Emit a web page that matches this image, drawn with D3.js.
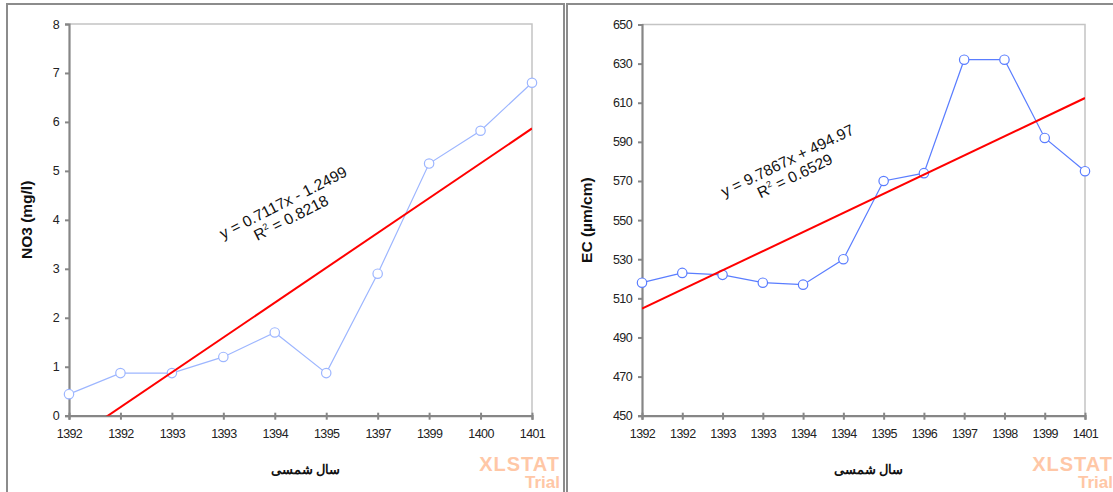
<!DOCTYPE html>
<html>
<head>
<meta charset="utf-8">
<script src="https://cdn.jsdelivr.net/npm/d3@7.9.0/dist/d3.min.js"></script>
<style>
  html, body { margin: 0; padding: 0; background: #fff; }
  svg { display: block; font-family: "Liberation Sans", Arial, sans-serif; }
  .tick text { font-size: 12.5px; fill: #222; letter-spacing: -0.6px; }
</style>
</head>
<body>
<svg id="chart" width="1113" height="492"></svg>
<script>
// NO3 chart data
const no3Labels = ['1392', '1392', '1393', '1393', '1394', '1395', '1397', '1399', '1400', '1401'];
const no3Values = [0.44, 0.87, 0.87, 1.2, 1.7, 0.87, 2.9, 5.15, 5.82, 6.8];
const no3Fit = [0.7117, -1.2499]; // slope, intercept
const no3R2 = '0.8218';
const no3Ticks = [0, 1, 2, 3, 4, 5, 6, 7, 8];

// EC chart data
const ecLabels = ['1392', '1392', '1393', '1393', '1394', '1394', '1395', '1396', '1397', '1398', '1399', '1401'];
const ecValues = [518, 523, 522, 518, 517, 530, 570, 574, 632, 632, 592, 575];
const ecFit = [9.7867, 494.97];
const ecR2 = '0.6529';
const ecTicks = [450, 470, 490, 510, 530, 550, 570, 590, 610, 630, 650];

const svg = d3.select('#chart');

function drawPanel(cfg) {
  const { labels, values, fit, r2, ticks, frame, plot, color, yTitle, eq } = cfg;

  // outer panel frame
  svg.append('rect')
    .attr('x', frame.x).attr('y', frame.y)
    .attr('width', frame.w).attr('height', 520)
    .attr('fill', 'none').attr('stroke', '#8c8c8c').attr('stroke-width', 2);

  const x = d3.scalePoint().domain(d3.range(labels.length)).range([plot.left, plot.right]);
  const y = d3.scaleLinear().domain(d3.extent(ticks)).range([plot.bottom, plot.top]);

  const clipId = 'clip-' + yTitle.slice(0, 2);
  svg.append('clipPath').attr('id', clipId)
    .append('rect')
    .attr('x', plot.left).attr('y', plot.top)
    .attr('width', plot.right - plot.left).attr('height', plot.bottom - plot.top);

  // light top / right border of plot area
  svg.append('path')
    .attr('d', `M${plot.left},${plot.top}H${plot.right}V${plot.bottom}`)
    .attr('fill', 'none').attr('stroke', '#c4c4c4').attr('stroke-width', 1.5);

  // y axis
  const yAxis = svg.append('g')
    .attr('transform', `translate(${plot.left},0)`)
    .call(d3.axisLeft(y).tickValues(ticks).tickSize(4).tickPadding(6));
  yAxis.select('.domain').attr('stroke', '#868686').attr('stroke-width', 2.2);
  yAxis.selectAll('.tick line').attr('stroke', '#868686').attr('stroke-width', 2);

  // x axis
  const xAxis = svg.append('g')
    .attr('transform', `translate(0,${plot.bottom})`)
    .call(d3.axisBottom(x).tickFormat(i => labels[i]).tickSize(4).tickPadding(9));
  xAxis.select('.domain').attr('stroke', '#868686').attr('stroke-width', 2.2);
  xAxis.selectAll('.tick line').attr('y1', -3).attr('y2', 4)
    .attr('stroke', '#868686').attr('stroke-width', 2);

  // series line + markers
  const line = d3.line().x((d, i) => x(i)).y(d => y(d));
  svg.append('path')
    .datum(values)
    .attr('d', line)
    .attr('fill', 'none').attr('stroke', color).attr('stroke-width', 1.2);

  svg.append('g').selectAll('circle')
    .data(values)
    .join('circle')
    .attr('cx', (d, i) => x(i))
    .attr('cy', d => y(d))
    .attr('r', 4.7)
    .attr('fill', '#fff').attr('stroke', color).attr('stroke-width', 1.2);

  // linear trend line
  const n = labels.length;
  svg.append('line')
    .attr('clip-path', `url(#${clipId})`)
    .attr('x1', x(0)).attr('y1', y(fit[0] * 1 + fit[1]))
    .attr('x2', x(n - 1)).attr('y2', y(fit[0] * n + fit[1]))
    .attr('stroke', '#ff0000').attr('stroke-width', 2);

  // equation label
  const sign = fit[1] < 0 ? ' - ' : ' + ';
  const eqG = svg.append('g')
    .attr('transform', `translate(${eq.x},${eq.y}) rotate(${eq.angle})`)
    .style('font-size', '15.5px').attr('fill', '#111').attr('text-anchor', 'middle');
  eqG.append('text').attr('y', -3)
    .text(`y = ${fit[0]}x${sign}${Math.abs(fit[1])}`);
  const r2Text = eqG.append('text').attr('y', 14);
  r2Text.append('tspan').text('R');
  r2Text.append('tspan').attr('dy', -6).style('font-size', '9px').text('2');
  r2Text.append('tspan').attr('dy', 6).text(` = ${r2}`);

  // axis titles
  svg.append('text')
    .attr('transform', `translate(${frame.x + 25},${(plot.top + plot.bottom) / 2}) rotate(-90)`)
    .attr('text-anchor', 'middle')
    .style('font-size', '15.5px').style('font-weight', 'bold').attr('fill', '#111')
    .text(yTitle);

  svg.append('text')
    .attr('x', (plot.left + plot.right) / 2 + 5).attr('y', 474)
    .attr('text-anchor', 'middle')
    .style('font-size', '13px').style('font-weight', 'bold').attr('fill', '#111')
    .text('سال شمسی');

  // watermark
  const wmX = frame.x + frame.w - 4;
  svg.append('text')
    .attr('x', wmX).attr('y', 471).attr('text-anchor', 'end')
    .style('font-size', '20px').style('font-weight', 'bold').style('letter-spacing', '1px')
    .attr('fill', '#ffc7a6')
    .text('XLSTAT');
  svg.append('text')
    .attr('x', wmX).attr('y', 488).attr('text-anchor', 'end')
    .style('font-size', '17px').style('font-weight', 'bold').attr('fill', '#ffc7a6')
    .text('Trial');
}

drawPanel({
  labels: no3Labels, values: no3Values, fit: no3Fit, r2: no3R2, ticks: no3Ticks,
  frame: { x: 7, y: 4, w: 557 },
  plot: { left: 69, right: 532, top: 24, bottom: 415.7 },
  color: '#9db6ff',
  yTitle: 'NO3 (mg/l)',
  eq: { x: 287, y: 210, angle: -27 }
});

drawPanel({
  labels: ecLabels, values: ecValues, fit: ecFit, r2: ecR2, ticks: ecTicks,
  frame: { x: 567, y: 4, w: 550 },
  plot: { left: 642, right: 1085, top: 24.5, bottom: 415.7 },
  color: '#5a7dff',
  yTitle: 'EC (µm/cm)',
  eq: { x: 791, y: 168, angle: -26 }
});
</script>
</body>
</html>
